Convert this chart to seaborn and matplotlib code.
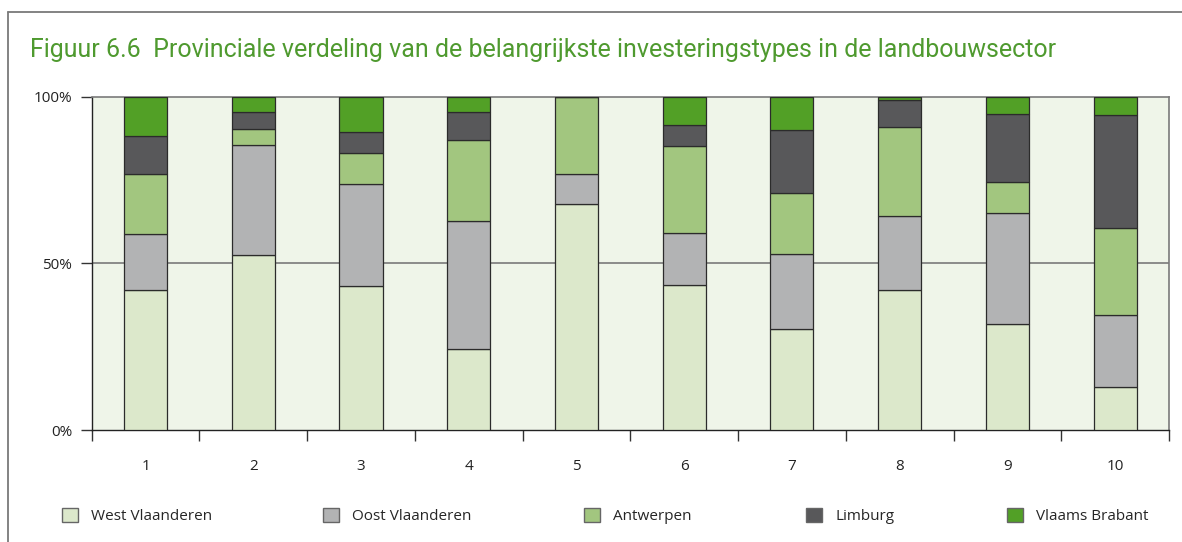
import matplotlib
matplotlib.use("Agg")
import matplotlib.pyplot as plt
from matplotlib.lines import Line2D
from matplotlib.patches import Patch
import seaborn as sns
import pandas as pd
import numpy as np

categories = ["1", "2", "3", "4", "5", "6", "7", "8", "9", "10"]
west_vlaanderen = [42.0, 52.6, 43.3, 24.5, 67.7, 43.5, 30.4, 42.0, 31.8, 13.0]
oost_vlaanderen = [16.8, 32.9, 30.4, 38.1, 9.2, 15.6, 22.4, 22.1, 33.3, 21.5]
antwerpen = [18.0, 4.7, 9.3, 24.5, 23.1, 26.0, 18.2, 26.8, 9.2, 26.1]
limburg = [11.4, 5.3, 6.3, 8.2, 0.0, 6.3, 18.9, 8.1, 20.4, 33.9]
vlaams_brabant = [11.8, 4.5, 10.7, 4.7, 0.0, 8.6, 10.1, 1.0, 5.3, 5.5]

series_names = ["West Vlaanderen", "Oost Vlaanderen", "Antwerpen", "Limburg", "Vlaams Brabant"]
series_values = [west_vlaanderen, oost_vlaanderen, antwerpen, limburg, vlaams_brabant]
colors = ["#DCE8CB", "#B2B3B4", "#A2C67F", "#58585A", "#52A026"]
y_ticks = [0, 50, 100]
y_tick_labels = ["0%", "50%", "100%"]
title = "Figuur 6.6  Provinciale verdeling van de belangrijkste investeringstypes in de landbouwsector"

sns.set_theme(style="white")
plt.rcParams["font.family"] = ["Open Sans", "DejaVu Sans"]

fig = plt.figure(figsize=(11.82, 5.42), dpi=100)
ax = fig.add_axes([0.0776, 0.2061, 0.989 - 0.0776, 0.8216 - 0.2061])
ax.set_facecolor("#EFF5E9")

df = pd.DataFrame({"cat": categories})
bottom = np.zeros(len(categories))
for name, vals, col in zip(series_names, series_values, colors):
    df[name] = vals
    sns.barplot(data=df, x="cat", y=name, bottom=bottom, color=col, width=0.4,
                edgecolor="#2b2b2b", linewidth=0.9, ax=ax, zorder=3, saturation=1)
    bottom = bottom + np.array(vals)

ax.set_xlim(-0.5, len(categories) - 0.5)
ax.set_ylim(0, 100)
ax.set_xlabel("")
ax.set_ylabel("")
ax.set_yticks(y_ticks)
ax.set_yticklabels(y_tick_labels)
ax.axhline(50, color="#7a7a7a", lw=1.2, zorder=1)

ax.tick_params(axis="x", which="major", length=0, pad=21, labelsize=11, colors="#222222")
ax.set_xticks(np.arange(-0.5, len(categories)), minor=True)
ax.tick_params(axis="x", which="minor", length=8, width=1, color="#333333", direction="out", bottom=True)
ax.tick_params(axis="y", length=8, width=1, color="#333333", direction="out", left=True,
               labelsize=11, colors="#222222", pad=6)

for side in ["left", "bottom"]:
    ax.spines[side].set_color("#222222")
    ax.spines[side].set_linewidth(1.0)
for side in ["top", "right"]:
    ax.spines[side].set_visible(True)
    ax.spines[side].set_color("#7a7a7a")
    ax.spines[side].set_linewidth(1.2)

fig.text(0.0254, 0.895, title, color="#4F9A2F", fontsize=18,
         family=["Roboto", "DejaVu Sans"], va="baseline", ha="left")

# outer frame
fig.add_artist(Line2D([8 / 1182, 8 / 1182], [0, 1 - 12 / 542], color="#7a7a7a", lw=1.3))
fig.add_artist(Line2D([8 / 1182, 1], [1 - 12 / 542, 1 - 12 / 542], color="#7a7a7a", lw=1.3))

legend_x = [62, 323, 584, 806, 1007]
for name, col, lx in zip(series_names, colors, legend_x):
    h = Patch(facecolor=col, edgecolor="#666666", linewidth=1)
    fig.legend(handles=[h], labels=[name], loc="center left",
               bbox_to_anchor=(lx / 1182, 1 - 516 / 542), frameon=False,
               fontsize=11, handlelength=1.05, handleheight=1.05, handletextpad=0.85,
               borderpad=0, borderaxespad=0)

fig.savefig("out.png", dpi=100)
